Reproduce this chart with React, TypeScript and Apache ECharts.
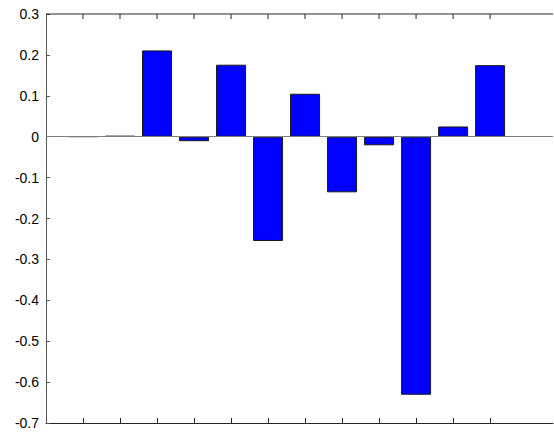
import React, { useEffect, useRef } from "react";
import * as echarts from "echarts";

const positions = [1, 2, 3, 4, 5, 6, 7, 8, 9, 10, 11, 12];
const values = [0.0005, 0.002, 0.211, -0.011, 0.176, -0.255, 0.105, -0.136, -0.021, -0.631, 0.025, 0.175];
const yMin = -0.7;
const yMax = 0.3;
const yStep = 0.1;
const xMin = 0;
const xMax = 13.7;

export default function App() {
  const ref = useRef<HTMLDivElement>(null);
  useEffect(() => {
    if (!ref.current) return;
    const chart = echarts.init(ref.current, null, { renderer: "svg" });
    const axisColor = "#262626";
    chart.setOption({
      animation: false,
      backgroundColor: "#ffffff",
      grid: { left: 46, top: 14, right: 1, bottom: 11, containLabel: false },
      xAxis: {
        type: "value",
        min: xMin,
        max: xMax,
        axisLine: { show: true, onZero: false, lineStyle: { color: axisColor, width: 1 } },
        axisTick: {
          show: true,
          inside: true,
          length: 5,
          lineStyle: { color: axisColor, width: 1 },
          customValues: positions,
        },
        axisLabel: { show: false },
        splitLine: { show: false },
      },
      yAxis: {
        type: "value",
        min: yMin,
        max: yMax,
        interval: yStep,
        axisLine: { show: true, onZero: false, lineStyle: { color: "#555", width: 1 } },
        axisTick: { show: true, inside: true, length: 4, lineStyle: { color: "#555" } },
        axisLabel: {
          color: "#000",
          fontFamily: "Liberation Sans, Arial, sans-serif",
          fontSize: 14,
          margin: 7,
          formatter: (v: number) => String(Math.round(v * 10) / 10),
        },
        splitLine: { show: false },
      },
      series: [
        {
          type: "bar",
          data: positions.map((p, i) => [p, values[i]]),
          barWidth: 30,
          itemStyle: { color: "#0000ff", borderColor: "#1a1a1a", borderWidth: 1 },
          markLine: {
            silent: true,
            symbol: "none",
            label: { show: false },
            lineStyle: { color: "#7f7f7f", width: 1, type: "solid" },
            data: [{ yAxis: 0 }],
          },
        },
        {
          type: "custom",
          silent: true,
          clip: false,
          data: positions.map((p) => [p, yMax]),
          renderItem: (params: any, api: any) => {
            const pt = api.coord([api.value(0), api.value(1)]);
            const children: any[] = [
              {
                type: "line",
                shape: { x1: pt[0], y1: pt[1], x2: pt[0], y2: pt[1] + 5 },
                style: { stroke: axisColor, lineWidth: 1 },
              },
            ];
            if (params.dataIndex === 0) {
              const a = api.coord([xMin, yMax]);
              const b = api.coord([xMax, yMax]);
              children.push({
                type: "line",
                shape: { x1: a[0], y1: a[1], x2: b[0], y2: b[1] },
                style: { stroke: axisColor, lineWidth: 1 },
              });
            }
            return { type: "group", children };
          },
        },
      ],
    });
    return () => chart.dispose();
  }, []);
  return (
    <div
      ref={ref}
      style={{ position: "fixed", left: 0, top: 0, width: 554, height: 434, background: "#fff" }}
    />
  );
}
